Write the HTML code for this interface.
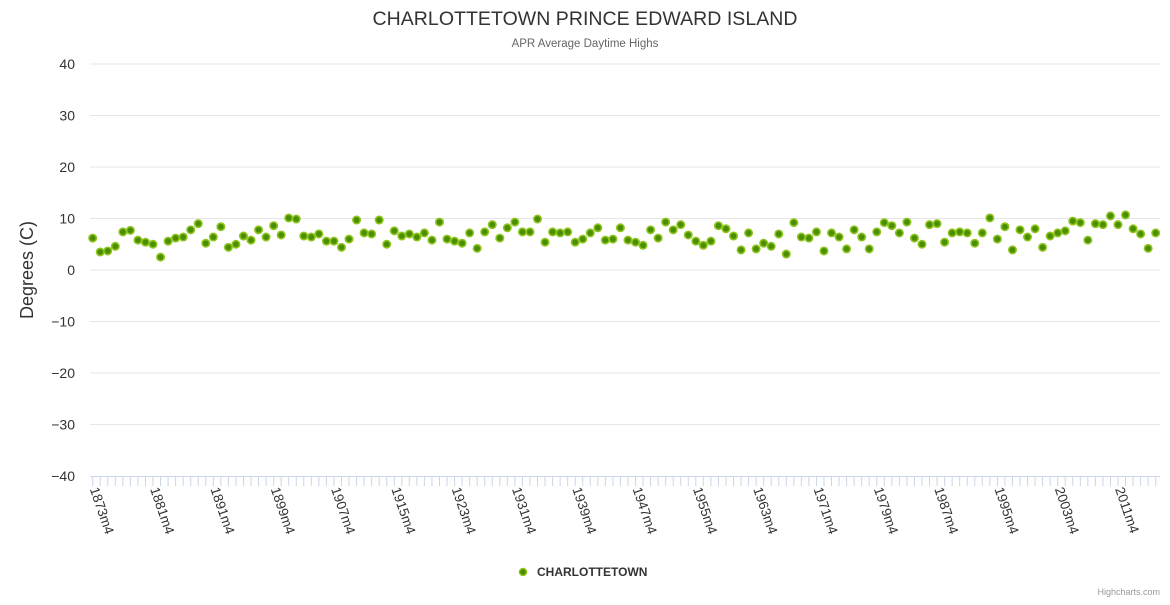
<!DOCTYPE html>
<html><head><meta charset="utf-8"><style>
body{margin:0;background:#fff;}
svg text{font-family:"Liberation Sans",sans-serif;}
</style></head><body>
<svg id="chart" width="1170" height="600" xmlns="http://www.w3.org/2000/svg">
<text x="585" y="25" text-anchor="middle" font-size="19.5" fill="#333" textLength="425">CHARLOTTETOWN PRINCE EDWARD ISLAND</text>
<text x="585" y="47" text-anchor="middle" font-size="11.5" fill="#666">APR Average Daytime Highs</text>
<text transform="translate(33,270) rotate(-90)" text-anchor="middle" font-size="18" fill="#333">Degrees (C)</text>
<g id="grid"></g><g id="xaxis"></g><g id="points"></g>
<g>
<circle cx="523" cy="572" r="3.5" fill="#4a8f00" stroke="#8fc31f" stroke-width="1.5"/>
<text x="537" y="576" font-size="12" font-weight="bold" fill="#333">CHARLOTTETOWN</text>
</g>
<text x="1160" y="595" text-anchor="end" font-size="9" fill="#999">Highcharts.com</text>
</svg>
<script>
const values=[6.2,3.5,3.7,4.6,7.4,7.7,5.8,5.4,5.0,2.5,5.6,6.2,6.4,7.8,9.0,5.2,6.4,8.4,4.4,5.0,6.6,5.8,7.8,6.4,8.6,6.8,10.1,9.9,6.6,6.4,7.0,5.6,5.6,4.4,6.0,9.7,7.2,
7.0,9.7,5.0,7.6,6.6,7.0,6.4,7.2,5.8,9.3,6.0,5.6,5.2,7.2,4.2,7.4,8.8,6.2,8.2,9.3,7.4,7.4,9.9,5.4,7.4,7.2,7.4,5.4,6.0,7.2,8.2,5.8,6.0,8.2,5.8,5.4,
4.8,7.8,6.2,9.3,7.8,8.8,6.8,5.6,4.8,5.6,8.6,8.0,6.6,3.9,7.2,4.1,5.2,4.6,7.0,3.1,9.2,6.4,6.2,7.4,3.7,7.2,6.4,4.1,7.8,6.4,4.1,7.4,9.2,8.6,7.2,9.3,
6.2,5.0,8.8,9.0,5.4,7.2,7.4,7.2,5.2,7.2,10.1,6.0,8.4,3.9,7.8,6.4,8.0,4.4,6.6,7.2,7.6,9.5,9.2,5.8,9.0,8.8,10.5,8.8,10.7,8.0,7.0,4.2,7.2];
const earlyYears=[1873,1874,1875,1876,1877,1878,1879,1880,1881,1882,1883,1884,1885,1886,1889,1890];
const yTicks=[40,30,20,10,0,-10,-20,-30,-40];
const categories=earlyYears.concat(Array.from({length:values.length-earlyYears.length},(_,i)=>(1891+i))).map(y=>y+'m4');
const NS='http://www.w3.org/2000/svg';
const x0=92.7,x1=1155.7,yTop=64,yBot=476,yMin=-40,yMax=40;
const xs=i=>x0+(x1-x0)*i/(values.length-1);
const ys=v=>yBot-(v-yMin)/(yMax-yMin)*(yBot-yTop);
function mk(t,a,p){const e=document.createElementNS(NS,t);for(const k in a)e.setAttribute(k,a[k]);p.appendChild(e);return e;}
const grid=document.getElementById('grid');
yTicks.forEach(v=>{
 if(v!==yMin){const l=mk('line',{x1:90,x2:1160,y1:ys(v),y2:ys(v),stroke:'#e6e6e6'},grid);
 
 }
 const t=mk('text',{x:75,y:ys(v)+5,'text-anchor':'end','font-size':14,fill:'#333'},grid);
 t.textContent=String(v).replace('-','\u2212');
 
 
});
const xa=document.getElementById('xaxis');
const al=mk('line',{x1:90,x2:1160,y1:476.5,y2:476.5,stroke:'#ccd6eb'},xa);


categories.forEach((c,i)=>{
 const x=xs(i);
 const tk=mk('line',{x1:x,x2:x,y1:476,y2:486,stroke:'#ccd6eb'},xa);
 
 
 if(i%8===0){
  const t=mk('text',{x:0,y:0,'font-size':13.5,fill:'#333',transform:`translate(${x-3},${489}) rotate(71)`},xa);
  t.textContent=c;
  
  
 }
});
const pg=document.getElementById('points');
values.forEach((v,i)=>{
 const c=mk('circle',{cx:xs(i),cy:ys(v),r:3.7,fill:'#4a8f00',stroke:'#8fc31f','stroke-width':1.6},pg);
 
 
});
</script>
</body></html>
